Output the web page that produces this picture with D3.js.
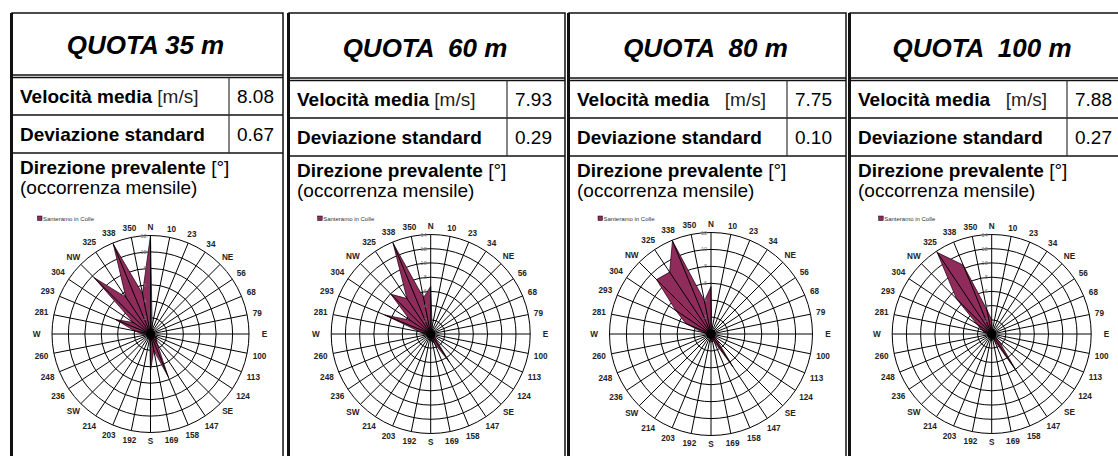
<!DOCTYPE html>
<html>
<head>
<meta charset="utf-8">
<script src="https://cdn.jsdelivr.net/npm/d3@7"></script>
<style>
  body { margin: 0; background: #fff; }
  svg { display: block; font-family: Arial, "Liberation Sans", sans-serif; }
</style>
</head>
<body>
<svg id="chart" width="1118" height="456"></svg>
<script>
// wind directions (32 sectors, clockwise from N)
var directions = ["N","10","23","34","NE","56","68","79","E","100","113","124","SE","147","158","169",
                  "S","192","203","214","SW","236","248","260","W","281","293","304","NW","325","338","350"];

var quote = ["QUOTA 35 m", "QUOTA  60 m", "QUOTA  80 m", "QUOTA  100 m"];
var velLabels = ["Velocità media ", "Velocità media ", "Velocità media   ", "Velocità media   "];
var velocita = ["8.08", "7.93", "7.75", "7.88"];
var deviazione = ["0.67", "0.29", "0.10", "0.27"];
var scaleMax = [12, 14, 12, 14];
var seriesName = "Santeramo in Colle";

// monthly occurrence per direction, same order as directions
var freq35  = [12, 1, 0.5, 0.5, 0.5, 0.5, 0.5, 0.5, 0.5, 0.5, 0.5, 1, 1, 1.5, 5.6, 2,
               4.5, 0.5, 0.5, 0.5, 0.5, 0.5, 0.5, 0.5, 1, 2, 4.6, 2.5, 9.7, 5.4, 11.8, 5];
var freq60  = [6.7, 1, 0.5, 0.5, 0.5, 0.5, 0.5, 0.5, 0.5, 0.5, 0.5, 0.5, 1, 4.7, 1.5, 1,
               1, 0.5, 0.5, 0.5, 0.5, 0.5, 0.5, 0.5, 1, 1.5, 7, 3.5, 7.9, 6, 13.8, 5.2];
var freq80  = [5.6, 0.5, 0.5, 0.5, 0.5, 0.5, 0.5, 0.5, 0.5, 0.5, 0.5, 0.5, 1, 4.6, 1, 0.5,
               1, 0.5, 0.5, 0.5, 0.5, 0.5, 0.5, 0.5, 0.5, 1, 3.2, 5, 9.1, 8.8, 11.9, 4];
var freq100 = [2, 0.5, 0.5, 0.5, 0.5, 0.5, 0.5, 0.5, 0.5, 0.5, 0.5, 0.5, 1.5, 6.3, 1, 0.5,
               1, 0.5, 0.5, 0.5, 0.5, 0.5, 0.5, 0.5, 0.5, 1, 1.5, 2.5, 7, 13.8, 10.5, 3.5];
var allFreq = [freq35, freq60, freq80, freq100];

// layout of the four table panels
var panelLeft  = [12, 289, 569, 850];
var panelRight = [283, 565, 846, 1125];
var divider    = [229, 507, 787, 1067];
var rowTitle   = [75, 78, 78, 78];
var rowVel     = [115, 118, 118, 118];
var rowDev     = [153, 156, 156, 156];
var centerX    = [150.5, 430.7, 711, 991.7];
var centerY    = 334;
var radius     = [98.5, 99.5, 101.5, 99.5];

var svg = d3.select('#chart');
svg.append('rect').attr('width', 1118).attr('height', 456).attr('fill', '#fff');

var angle = d3.scaleBand()
	.domain(directions)
	.range([0, 2 * Math.PI]);

quote.forEach(function(title, i){
	var g = svg.append('g');
	var L = panelLeft[i], Rt = panelRight[i], top = 13;
	var off = rowTitle[i] - 75;

	// table lines
	g.append('rect')
		.attr('x', L).attr('y', top).attr('width', Rt - L).attr('height', 460)
		.attr('fill', 'none').attr('stroke', '#111').attr('stroke-width', 1.5);
	g.append('rect')
		.attr('x', L - 2).attr('y', top).attr('width', 3).attr('height', 460)
		.attr('fill', '#111');
	[rowTitle[i], rowTitle[i] + 2.5, rowVel[i], rowDev[i]].forEach(function(y){
		g.append('line')
			.attr('x1', L).attr('x2', Rt).attr('y1', y).attr('y2', y)
			.attr('stroke', '#111').attr('stroke-width', 1.3);
	});
	g.append('line')
		.attr('x1', divider[i]).attr('x2', divider[i])
		.attr('y1', rowTitle[i] + 2.5).attr('y2', rowDev[i])
		.attr('stroke', '#333').attr('stroke-width', 1.2);

	// texts
	g.append('text')
		.attr('x', (L + Math.min(Rt, 1118)) / 2 - 2).attr('y', 54 + off)
		.attr('text-anchor', 'middle')
		.style('font-size', '26px').style('font-weight', 'bold').style('font-style', 'italic')
		.attr('xml:space', 'preserve')
		.text(title);

	var v = g.append('text').attr('x', L + 8).attr('y', 103 + off)
		.style('font-size', '19px').attr('xml:space', 'preserve');
	v.append('tspan').style('font-weight', 'bold').text(velLabels[i]);
	v.append('tspan').attr('fill', '#222').text('[m/s]');
	g.append('text').attr('x', divider[i] + 8).attr('y', 103 + off)
		.style('font-size', '19px').text(velocita[i]);

	g.append('text').attr('x', L + 8).attr('y', 141 + off)
		.style('font-size', '19px').style('font-weight', 'bold')
		.text('Deviazione standard');
	g.append('text').attr('x', divider[i] + 8).attr('y', 141 + off)
		.style('font-size', '19px').text(deviazione[i]);

	var d = g.append('text').attr('x', L + 8).attr('y', 174 + off)
		.style('font-size', '19px');
	d.append('tspan').style('font-weight', 'bold').text('Direzione prevalente ');
	d.append('tspan').text('[°]');
	g.append('text').attr('x', L + 8).attr('y', 194 + off)
		.style('font-size', '19px').text('(occorrenza mensile)');

	// wind rose
	var cx = centerX[i], R = radius[i];
	var r = d3.scaleLinear().domain([0, scaleMax[i]]).range([0, R]);
	var rose = g.append('g').attr('transform', 'translate(' + cx + ',' + centerY + ')');

	rose.selectAll('circle.ring')
		.data(r.ticks(scaleMax[i] / 2).filter(function(t){ return t > 0; }))
		.enter().append('circle')
		.attr('class', 'ring')
		.attr('r', function(t){ return r(t); })
		.attr('fill', 'none').attr('stroke', '#000').attr('stroke-width', 1);

	var area = d3.lineRadial()
		.angle(function(dd, k){ return angle(directions[k]); })
		.radius(function(dd){ return r(dd); })
		.curve(d3.curveLinearClosed);

	rose.append('path')
		.datum(allFreq[i])
		.attr('d', area)
		.attr('fill', '#8f2c5c')
		.attr('stroke', '#2a0a18').attr('stroke-width', 0.8);

	rose.selectAll('line.spoke')
		.data(directions)
		.enter().append('line')
		.attr('class', 'spoke')
		.attr('x1', 0).attr('y1', 0)
		.attr('x2', function(dd){ return r(scaleMax[i]) * Math.sin(angle(dd)); })
		.attr('y2', function(dd){ return -r(scaleMax[i]) * Math.cos(angle(dd)); })
		.attr('stroke', '#000').attr('stroke-width', 1);

	// dense hub where the spokes meet
	rose.append('circle').attr('r', 4.5).attr('fill', '#000');

	// value labels along the N axis
	rose.selectAll('text.tick')
		.data(r.ticks(scaleMax[i] / 2).filter(function(t){ return t > 0; }))
		.enter().append('text')
		.attr('class', 'tick')
		.attr('x', -4).attr('y', function(t){ return -r(t) + 2; })
		.attr('text-anchor', 'end')
		.style('font-size', '5.5px').attr('fill', '#777')
		.text(function(t){ return t; });

	// direction labels
	rose.selectAll('text.dir')
		.data(directions)
		.enter().append('text')
		.attr('class', 'dir')
		.each(function(dd){
			var a = angle(dd), s = Math.sin(a), c = Math.cos(a);
			var w = dd.length * 4.8, h = 6.2;
			var extra = (dd == 'E' || dd == 'W') ? 8 : 0;
			var off2 = R + 5 + extra + (w / 2) * Math.abs(s) + (h / 2) * Math.abs(c);
			d3.select(this)
				.attr('x', off2 * s)
				.attr('y', -off2 * c + 3)
				.attr('text-anchor', 'middle');
		})
		.style('font-size', '8.2px').style('font-weight', 'bold').attr('fill', '#222')
		.text(function(dd){ return dd; });

	// legend
	g.append('rect')
		.attr('x', cx - 113).attr('y', 216).attr('width', 4.5).attr('height', 4.5)
		.attr('fill', '#8f2c5c').attr('stroke', '#000').attr('stroke-width', 0.5);
	g.append('text')
		.attr('x', cx - 107.5).attr('y', 220.5)
		.style('font-size', '6px').attr('fill', '#333')
		.text(seriesName);
});
</script>
</body>
</html>
